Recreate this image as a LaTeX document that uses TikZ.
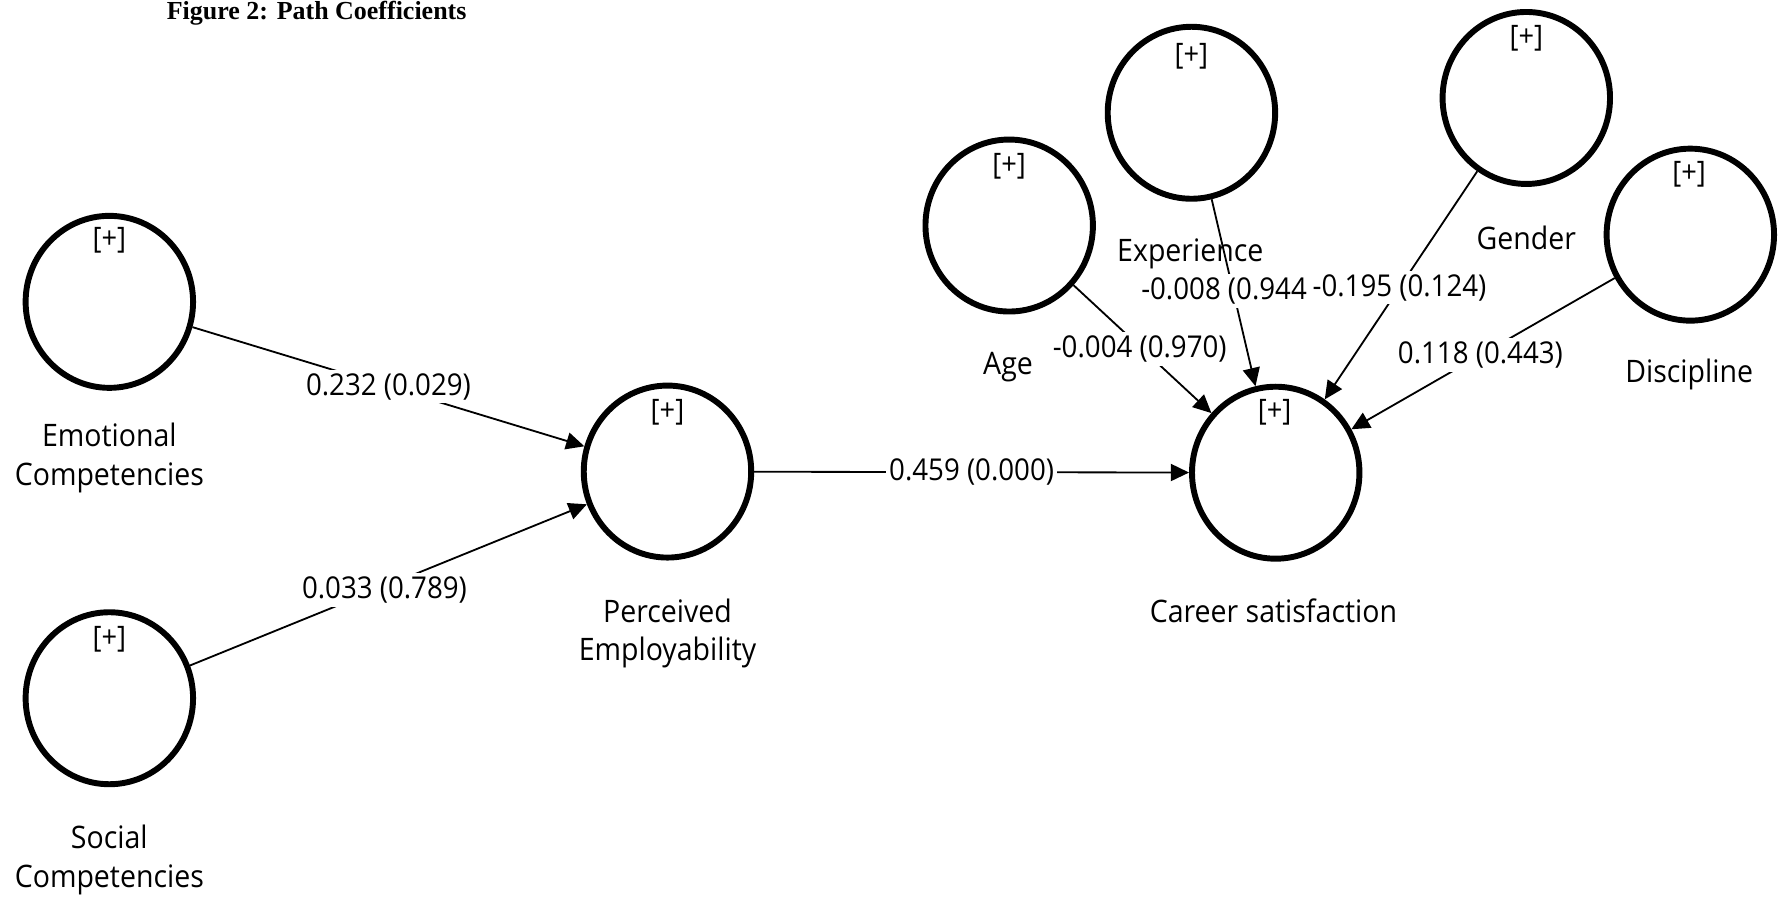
\documentclass[tikz,border=0pt]{standalone}
\usepackage{fontspec}
\setmainfont{Open Sans}[FakeStretch=0.92]
\newfontfamily\titlefont{Liberation Serif}
\usetikzlibrary{arrows.meta,shapes.geometric}
\begin{document}
\begin{tikzpicture}[x=0.5pt,y=-0.5pt,
  lv/.style={draw=black, line width=2.6pt, ellipse, minimum width=73.5pt, minimum height=75.5pt, inner sep=0pt},
  plus/.style={font=\fontsize{13}{15}\selectfont, inner sep=0pt},
  lvname/.style={font=\fontsize{13.6}{17}\selectfont, align=center, inner sep=0pt},
  coef/.style={font=\fontsize{13.2}{15}\selectfont, fill=white, inner sep=1.5pt},
  pathline/.style={draw=black, line width=0.8pt, -{Triangle[length=8pt,width=7.5pt]}},
]
\useasboundingbox (0,0) rectangle (1568,788);

\node[font=\titlefont\bfseries\fontsize{11.4}{13}\selectfont, anchor=base] (title) at (278,17.5) {Figure 2: Path Coefficients};

% latent variables
\node[lv] (ec) at (96,265) {};
\node[lv] (sc) at (96,613) {};
\node[lv] (pe) at (586,414) {};
\node[lv] (cs) at (1120,415) {};
\node[lv] (age) at (886,198) {};
\node[lv] (exp) at (1046,99) {};
\node[lv] (gen) at (1340,86) {};
\node[lv] (dis) at (1484,206) {};

% [+] markers
\node[plus] (ecp) at (96,211) {[+]};
\node[plus] (scp) at (96,561) {[+]};
\node[plus] (pep) at (586,362) {[+]};
\node[plus] (csp) at (1119,362) {[+]};
\node[plus] (agep) at (886,146) {[+]};
\node[plus] (expp) at (1046,49) {[+]};
\node[plus] (genp) at (1340,34) {[+]};
\node[plus] (disp) at (1483,153) {[+]};

% names
\node[lvname] (ecn) at (96,402) {Emotional\\Competencies};
\node[lvname] (scn) at (96,755) {Social\\Competencies};
\node[lvname] (pen) at (586,556) {Perceived\\Employability};
\node[lvname] (csn) at (1118,536) {Career satisfaction};
\node[lvname] (agen) at (885,322) {Age};
\node[lvname] (expn) at (1045,223) {Experience};
\node[lvname] (genn) at (1340,209) {Gender};
\node[lvname] (disn) at (1483,329) {Discipline};

% paths
\draw[pathline] (ec) -- node[coef] (c1) {0.232 (0.029)} (pe);
\draw[pathline] (sc) -- node[coef, pos=0.49, yshift=-1.5pt] (c2) {0.033 (0.789)} (pe);
\draw[pathline] (pe) -- node[coef] (c3) {0.459 (0.000)} (cs);
\draw[pathline] (age) -- node[coef, pos=0.48, yshift=-1pt] (c4) {-0.004 (0.970)} (cs);
\draw[pathline] (exp) -- node[coef, pos=0.49, xshift=-4pt] (c5) {-0.008 (0.944} (cs);
\draw[pathline] (gen) -- node[coef, pos=0.51] (c6) {-0.195 (0.124)} (cs);
\draw[pathline] (dis) -- node[coef, pos=0.51] (c7) {0.118 (0.443)} (cs);
\end{tikzpicture}
\end{document}
